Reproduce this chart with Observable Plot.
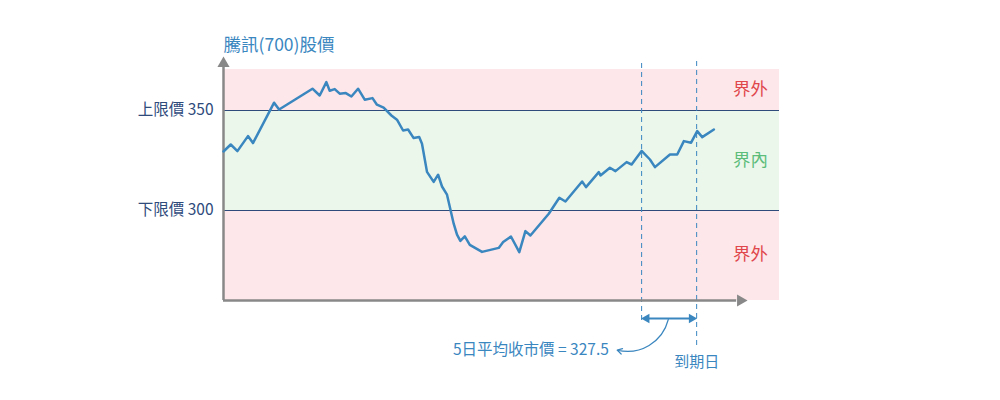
<!DOCTYPE html>
<html>
<head>
<meta charset="utf-8">
<script src="https://cdn.jsdelivr.net/npm/d3@7"></script>
<script src="https://cdn.jsdelivr.net/npm/@observablehq/plot@0.6"></script>
<style>
  html, body { margin: 0; padding: 0; background: #fff; }
  #chart { width: 1000px; height: 400px; }
</style>
</head>
<body>
<div id="chart"></div>
<script>
// ---- data (trading day index, price) ----
const days = [0, 1.3, 2.5, 4.4, 5.3, 9.1, 10.0, 16.0, 17.3, 18.5, 19.1, 20.0, 20.9, 22.0, 23.0, 24.2, 25.4, 26.8, 27.6, 28.8, 30.2, 31.2, 32.3, 33.2, 34.2, 35.2, 35.7, 36.6, 37.8, 38.6, 39.3, 40.2, 41.4, 42.0, 42.6, 43.4, 44.3, 46.5, 49.5, 50.3, 51.7, 53.2, 54.3, 55.2, 58.5, 60.4, 61.5, 64.5, 65.2, 67.5, 67.8, 69.5, 70.5, 72.5, 73.4, 75.2, 76.7, 77.6, 80.3, 81.6, 82.8, 84.1, 85.2, 86.1, 88.2];
const prices = [329.5, 333, 329.7, 337.2, 333.7, 353.9, 350.5, 360.9, 357.5, 364.2, 359.9, 360.7, 358.4, 358.7, 357, 360.9, 355.4, 356.2, 352.9, 351.4, 347.5, 345.4, 340, 340.5, 336.2, 336.7, 333.4, 319.3, 314.3, 317.9, 312, 307.9, 293.4, 287.9, 284.8, 287.1, 282.8, 279.3, 281.3, 284.2, 287, 279.2, 289.7, 287.5, 298.4, 306.4, 304.5, 314.5, 311.7, 319.2, 317.5, 321.4, 319.7, 324.2, 323, 329.8, 325.5, 321.7, 328, 328, 334.7, 333.9, 339.7, 336.7, 340.5];

const upperLimit = 350;
const lowerLimit = 300;
const tickValues = [lowerLimit, upperLimit];
const tickLabels = ["下限價 300", "上限價 350"];
const bandNames = ["界外", "界內", "界外"];
const avgWindow = [75.2, 85.1];          // 5-day averaging window (start, expiry)
const titleText = "騰訊(700)股價";
const avgText = "5日平均收市價 = 327.5";
const expiryText = "到期日";

const xDomain = [0, 100];
const yDomain = [255, 370.5];

// ---- derived tables ----
const series = days.map((d, i) => ({day: d, price: prices[i]}));
const bands = [
  {y1: upperLimit, y2: yDomain[1], fill: "#fde7ea"},
  {y1: lowerLimit, y2: upperLimit, fill: "#ecf7ec"},
  {y1: yDomain[0], y2: lowerLimit, fill: "#fde7ea"}
];
const bandLabels = [
  {y: 360.5, text: bandNames[0], color: "#e0474c"},
  {y: 325, text: bandNames[1], color: "#5cbd7b"},
  {y: 278, text: bandNames[2], color: "#e0474c"}
];
const windowHeads = [
  {x: avgWindow[0] + 0.9, rotate: -90},
  {x: avgWindow[1] - 0.9, rotate: 90}
];

const blue = "#3a86bf";
const navy = "#2f4b7c";
const grey = "#888888";
const font = "'Noto Sans CJK TC', 'Noto Sans', sans-serif";

const chart = Plot.plot({
  width: 1000,
  height: 400,
  marginLeft: 223,
  marginRight: 221,
  marginTop: 69,
  marginBottom: 100,
  style: {fontFamily: font, fontSize: "15px", background: "#fff", overflow: "visible"},
  x: {domain: xDomain, axis: null},
  y: {domain: yDomain, axis: null},
  marks: [
    Plot.rect(bands, {x1: xDomain[0], x2: xDomain[1], y1: "y1", y2: "y2", fill: d => d.fill}),
    Plot.ruleY(tickValues, {stroke: navy, strokeWidth: 1}),
    Plot.axisY({
      ticks: tickValues,
      tickFormat: (d) => tickLabels[tickValues.indexOf(d)],
      tickSize: 0,
      tickPadding: 10,
      fontSize: 15.5,
      fill: navy,
      label: null
    }),
    // dashed verticals
    Plot.ruleX([avgWindow[0]], {y1: 245, y2: 374.5, stroke: blue, strokeDasharray: "5,4", strokeWidth: 1}),
    Plot.ruleX([avgWindow[1]], {y1: 232.5, y2: 374.5, stroke: blue, strokeDasharray: "5,4", strokeWidth: 1}),
    // axes with arrow heads
    Plot.ruleX([0], {y1: yDomain[0], y2: 372.5, stroke: grey, strokeWidth: 2.5}),
    Plot.dot([0], {x: 0, y: 373.5, symbol: "triangle", r: 4.5, fill: grey, stroke: null}),
    Plot.ruleY([yDomain[0]], {x1: 0, x2: 92.3, stroke: grey, strokeWidth: 2.5}),
    Plot.dot([0], {x: 93.0, y: yDomain[0], symbol: "triangle", rotate: 90, r: 4.5, fill: grey, stroke: null}),
    // price line
    Plot.line(series, {x: "day", y: "price", stroke: blue, strokeWidth: 2.5, strokeLinejoin: "round"}),
    // band labels
    Plot.text(bandLabels, {x: 94.8, y: "y", text: "text", fill: d => d.color, fontSize: 17.5}),
    // title
    Plot.text([titleText], {frameAnchor: "top-left", text: d => d, dy: -24, lineAnchor: "middle", fill: blue, fontSize: 17.5}),
    // averaging window double arrow
    Plot.ruleY([246], {x1: avgWindow[0] + 1.2, x2: avgWindow[1] - 1.2, stroke: blue, strokeWidth: 2}),
    Plot.dot(windowHeads, {x: "x", y: 246, rotate: "rotate", symbol: "triangle", r: 3.6, fill: blue, stroke: null}),
    // curved pointer to the average text
    Plot.arrow([0], {x1: 80.0, y1: 245.5, x2: 70.8, y2: 230.2, bend: 45, stroke: blue, strokeWidth: 1.2, headLength: 7}),
    Plot.text([avgText], {x: 69.3, y: 230, text: d => d, textAnchor: "end", fill: blue, fontSize: 15.5}),
    Plot.text([expiryText], {x: avgWindow[1], y: 224, text: d => d, fill: blue, fontSize: 15})
  ]
});

document.getElementById("chart").appendChild(chart);
</script>
</body>
</html>
